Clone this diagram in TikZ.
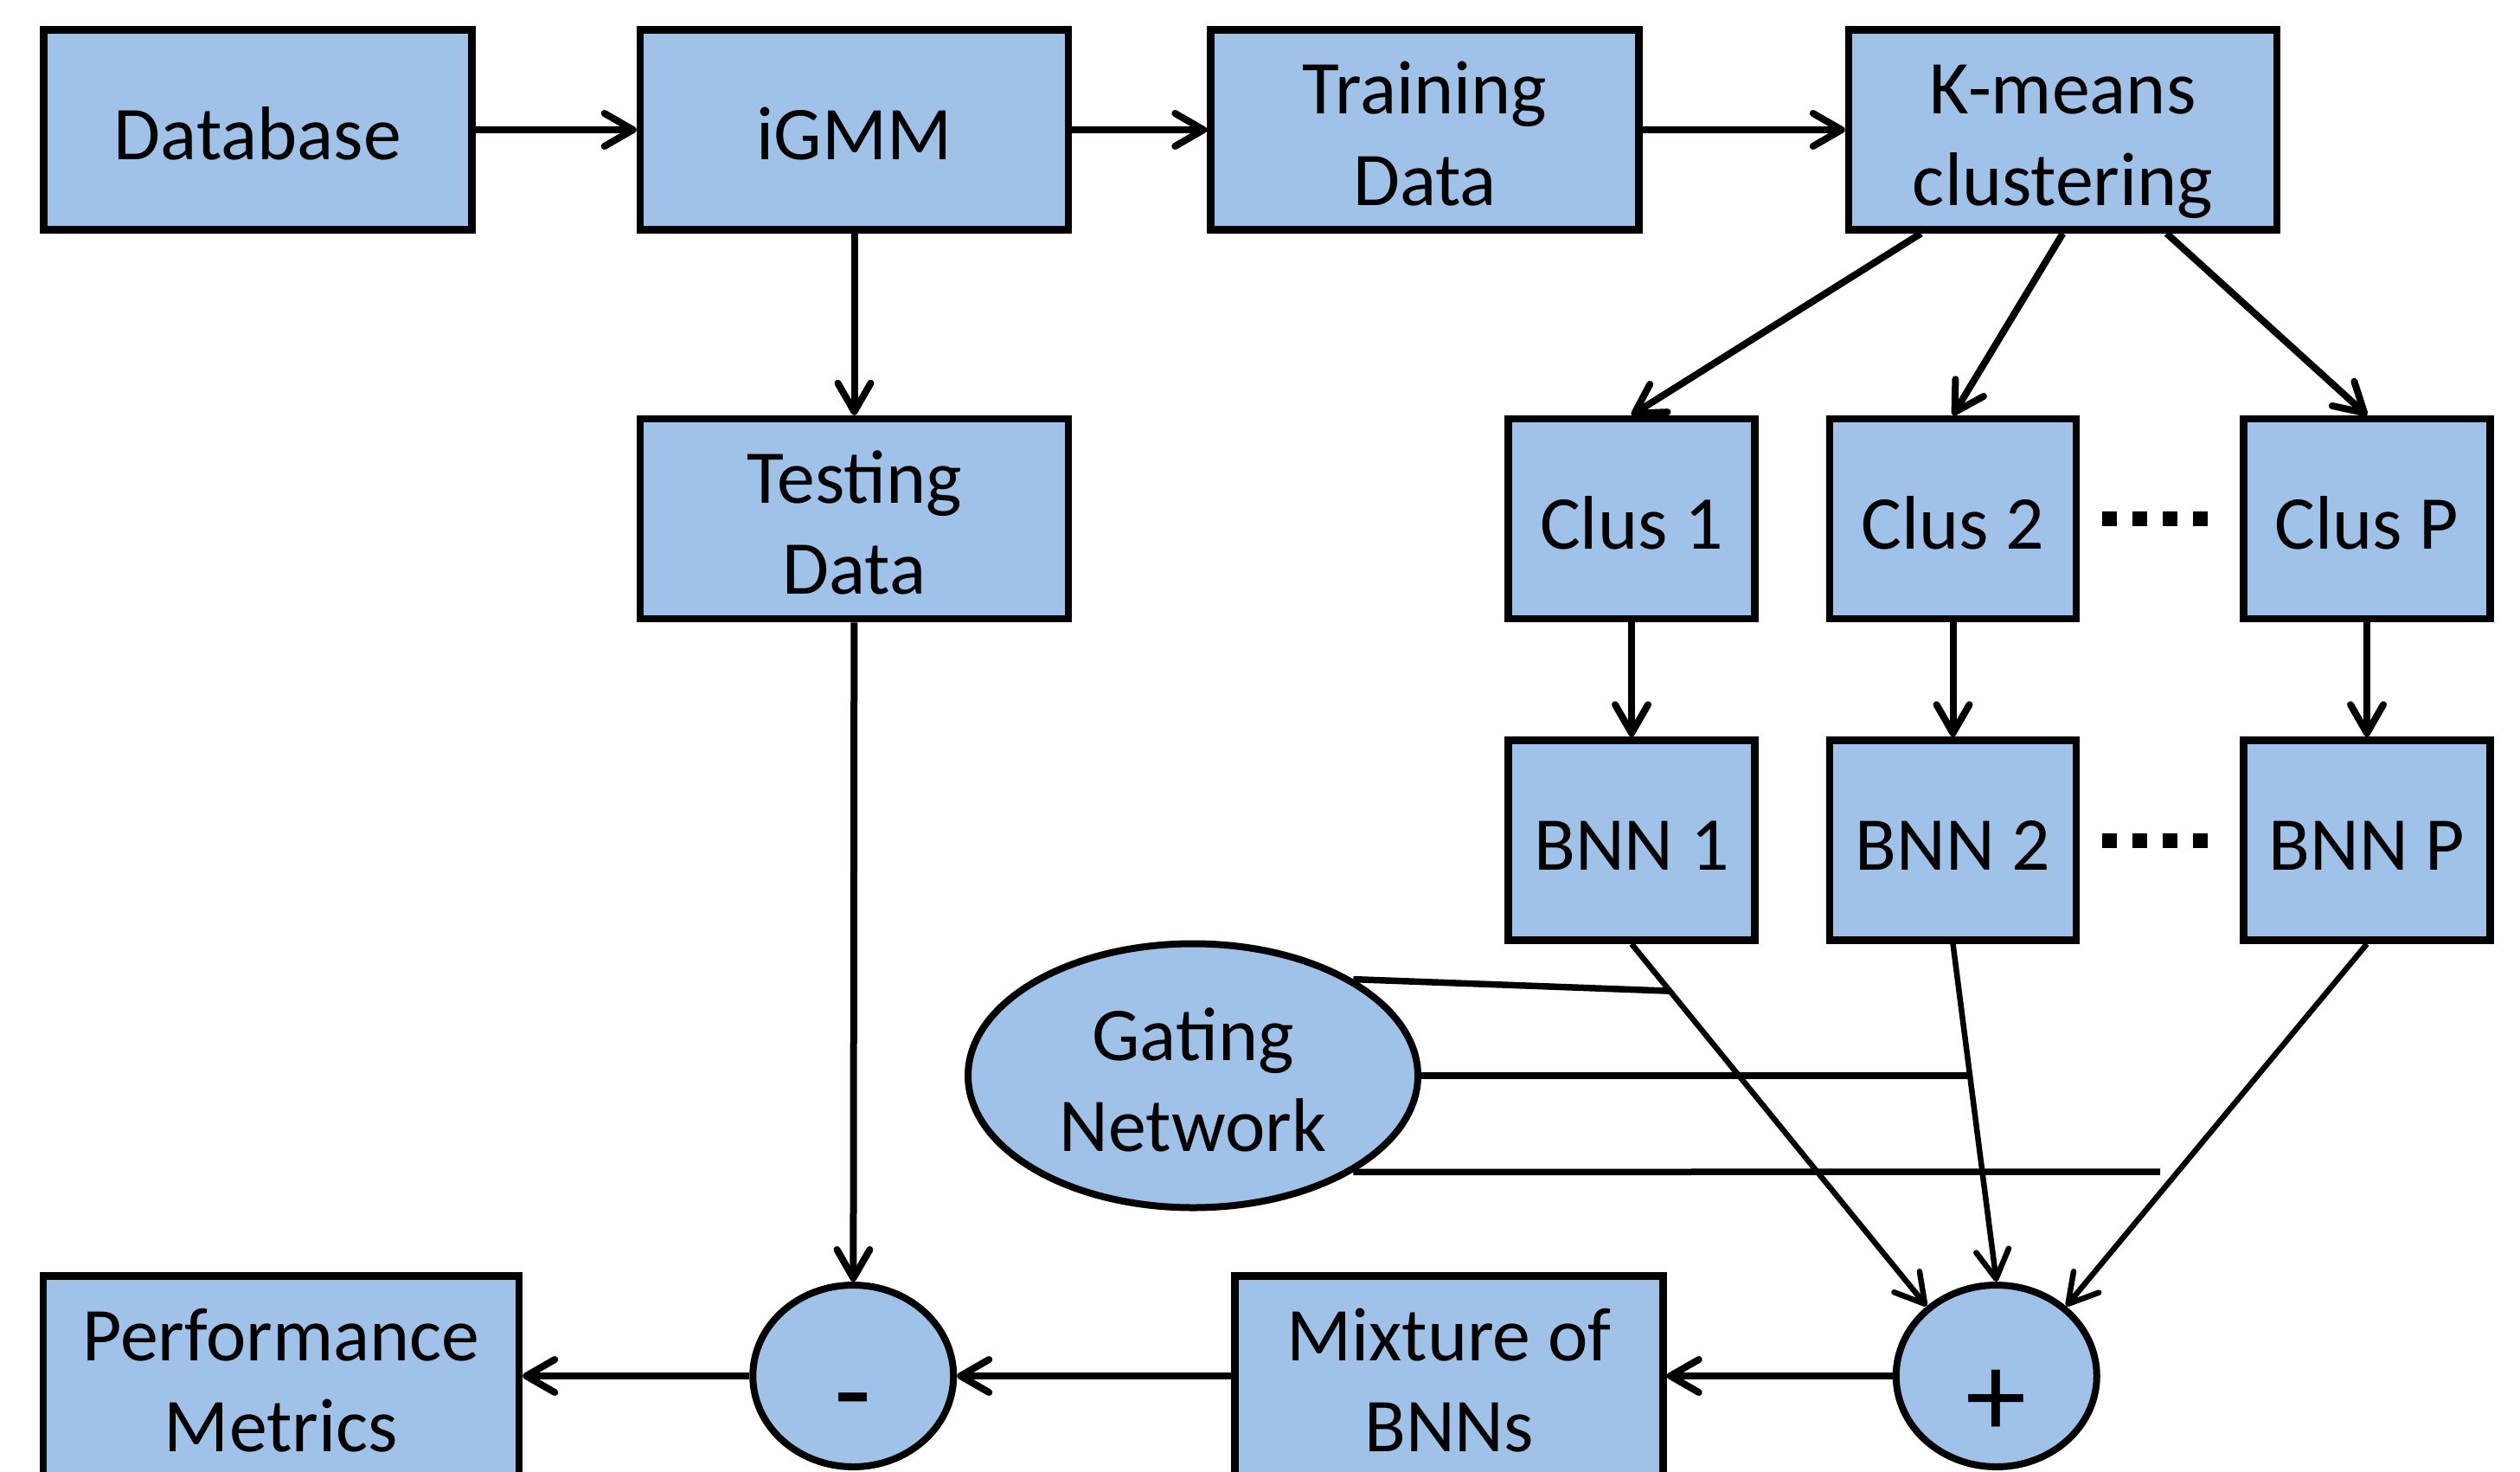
\documentclass[tikz,border=0pt]{standalone}
\usepackage{fontspec}
\setmainfont{Carlito}
\usepackage{tikz}
\usetikzlibrary{calc,positioning,shapes.geometric,arrows.meta}
\definecolor{boxblue}{RGB}{160,194,232}

\begin{document}
\begin{tikzpicture}[
textstrut/.style={execute at begin node={\rule{0pt}{1em}}, execute at end node={\rule[-0.21em]{0pt}{0.21em}}},
twoline/.style={execute at begin node={\rule{0pt}{2.2em}}},
blockbox/.style={rectangle, draw=black, fill=boxblue, line width=0.085cm, minimum width=4.95cm, minimum height=2.31cm, inner sep=0pt, font=\fontsize{25}{30}\selectfont, align=center, textstrut},
clusbox/.style={blockbox, minimum width=2.85cm},
gatenode/.style={ellipse, draw=black, fill=boxblue, line width=0.08cm, minimum width=5.2cm, minimum height=3.05cm, inner sep=0pt, font=\fontsize{25}{30}\selectfont, align=center, textstrut, twoline},
sumnode/.style={ellipse, draw=black, fill=boxblue, line width=0.08cm, minimum width=2.32cm, minimum height=2.1cm, inner sep=0pt, font=\fontsize{40}{40}\selectfont, text depth=0pt},
flow/.style={line width=0.08cm},
thinflow/.style={line width=0.065cm},
gateline/.style={line width=0.075cm},
>={Straight Barb[length=3.3mm,width=3.8mm,round]}
]
\clip (0,0) rectangle (29.13,-17.00);

%Nodes
\node[blockbox]          (db)     at (2.98,-1.50) {Database};
\node[blockbox]          (igmm)   [right=1.86cm of db] {iGMM};
\node[blockbox, twoline] (train)  [right=1.56cm of igmm] {Training\\Data};
\node[blockbox, twoline] (kmeans) [right=2.34cm of train] {K-means\\clustering};
\node[blockbox, twoline] (test)   [below=2.1cm of igmm] {Testing\\Data};

\node[clusbox]           (clus1)  [right=5.0cm of test] {Clus 1};
\node[clusbox]           (clus2)  [right=0.78cm of clus1] {Clus 2};
\node[clusbox]           (clusP)  [right=1.85cm of clus2] {Clus P};
\node[clusbox]           (bnn1)   [below=1.32cm of clus1] {BNN 1};
\node[clusbox]           (bnn2)   [below=1.32cm of clus2] {BNN 2};
\node[clusbox]           (bnnP)   [below=1.32cm of clusP] {BNN P};

\node[gatenode]          (gate)   at (13.79,-12.43) {Gating\\Network};

\node[blockbox, twoline, minimum width=5.5cm] (perf) at (3.25,-15.90) {Performance\\Metrics};
\node[sumnode, text height=1.28cm]    (minus) [right=2.62cm of perf] {-};
\node[blockbox, twoline] (mix)    [right=3.17cm of minus] {Mixture of\\BNNs};
\node[sumnode, text height=1.4cm]     (plus)  [right=2.61cm of mix] {+};

%Gating ends
\coordinate (g1) at ($(bnn1.south)!0.13!(plus.135)$);
\coordinate (g2) at ($(bnn2.south)!0.4!(plus.north)$);
\coordinate (g3) at (24.97,-13.54);

%Lines
\draw[flow,->] (db) -- (igmm);
\draw[flow,->] (igmm) -- (train);
\draw[flow,->] (train) -- (kmeans);
\draw[flow,->] (igmm) -- (test);

\draw[flow,->] ([xshift=-1.64cm]kmeans.south) -- (clus1.north);
\draw[flow,->] (kmeans.south) -- (clus2.north);
\draw[flow,->] ([xshift=1.2cm]kmeans.south) -- (clusP.north);

\draw[flow,->] (clus1) -- (bnn1);
\draw[flow,->] (clus2) -- (bnn2);
\draw[flow,->] (clusP) -- (bnnP);

\draw[line width=0.17cm, dash pattern=on 0.17cm off 0.18cm, shorten <=0.26cm, shorten >=0.37cm] (clus2.east) -- (clusP.west);
\draw[line width=0.17cm, dash pattern=on 0.17cm off 0.18cm, shorten <=0.26cm, shorten >=0.37cm] (bnn2.east) -- (bnnP.west);

\draw[thinflow,->] (bnn1.south) -- (plus.135);
\draw[thinflow,->] (bnn2.south) -- (plus.north);
\draw[thinflow,->] (bnnP.south) -- (plus.45);

\draw[gateline] (gate.31) -- (g1);
\draw[gateline] (gate.east) -- (gate.east -| g2);
\draw[gateline] (gate.-31) -- (g3);

\draw[flow,->] (test) -- (minus);
\draw[flow,->] (plus) -- (mix);
\draw[flow,->] (mix) -- (minus);
\draw[flow,->] (minus) -- (perf);

\end{tikzpicture}
\end{document}
